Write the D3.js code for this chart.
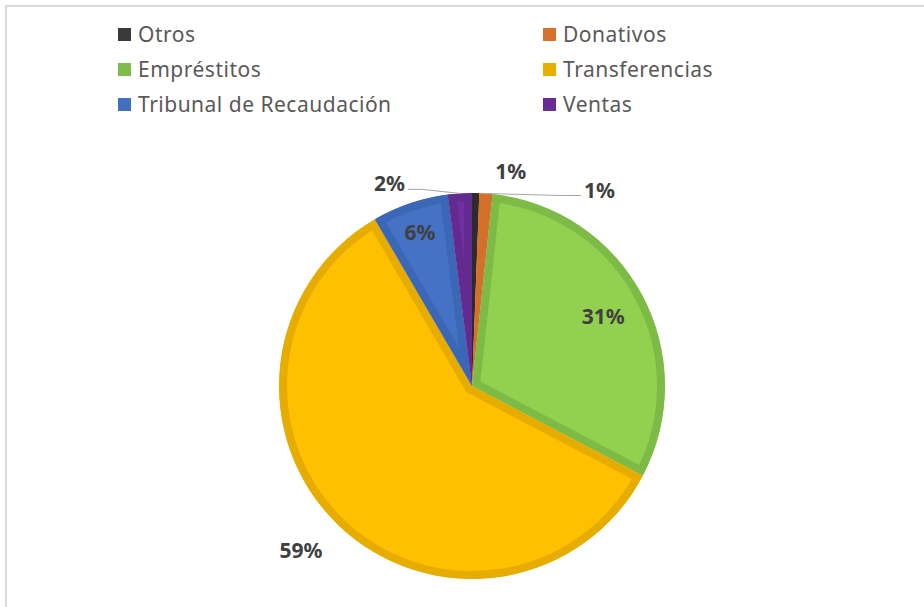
<!DOCTYPE html>
<html>
<head>
<meta charset="utf-8">
<script src="https://cdn.jsdelivr.net/npm/d3@7"></script>
<style>
  body { margin: 0; background: #fff; }
  svg { display: block; }
</style>
</head>
<body>
<svg id="chart" width="924" height="607"></svg>
<script>
// data (percent of total)
const categories = ["Otros", "Donativos", "Empréstitos", "Transferencias", "Tribunal de Recaudación", "Ventas"]
const values = [0.6, 1.1, 31.0, 58.9, 6.4, 2.0]

// styles
const fillColors = ["#333333", "#ed7d31", "#92d050", "#ffc000", "#4472c4", "#7030a0"]
const edgeColors = ["#2b2b2b", "#d5702c", "#7dbb46", "#e6ad00", "#3c67b6", "#632a8f"]
const legendColors = ["#3a3a3a", "#d9712e", "#80bc48", "#e8ae00", "#4170c0", "#682c95"]

const width = 924, height = 607
const cx = 472, cy = 386, radius = 193
const font = "'Noto Sans', 'Open Sans', sans-serif"

// label placement: inside/outside by radius factor, small slices get an offset + leader
const labelLayout = [
    {mode: "offset", dx: 35, dy: -22, leader: false},
    {mode: "offset", dx: 98, dy: -4, leader: true, anchor: "start"},
    {mode: "radial", k: 0.77},
    {mode: "radial", k: 1.2, dx: -11, dy: -3},
    {mode: "radial", k: 0.84},
    {mode: "offset", dx: -55, dy: -10, leader: true, anchor: "end"}
]

let svg = d3.select("#chart")

// chart frame
svg.append("rect")
    .attr("x", 6).attr("y", 6)
    .attr("width", width).attr("height", height)
    .attr("fill", "none")
    .attr("stroke", "#d9d9d9")
    .attr("stroke-width", 2)

let data = categories.map((c, i) => ({name: c, value: values[i], i: i}))

let pie = d3.pie().sort(null).value(d => d.value)
let arcs = pie(data)
let arc = d3.arc().innerRadius(0).outerRadius(radius)

let g = svg.append("g").attr("transform", `translate(${cx},${cy})`)

let defs = svg.append("defs")
arcs.forEach((d, i) => {
    defs.append("clipPath").attr("id", "clip" + i)
        .append("path").attr("d", arc(d))
})

g.selectAll("path.slice")
    .data(arcs)
    .join("path")
    .attr("class", "slice")
    .attr("d", arc)
    .attr("fill", d => fillColors[d.data.i])
    .attr("stroke", d => edgeColors[d.data.i])
    .attr("stroke-width", 16)
    .attr("stroke-linejoin", "miter")
    .attr("clip-path", d => `url(#clip${d.data.i})`)

// labels
const fmt = d3.format(".0%")
function polar(angle, r) {
    return [Math.sin(angle) * r, -Math.cos(angle) * r]
}

arcs.forEach((d, i) => {
    let mid = (d.startAngle + d.endAngle) / 2
    let lay = labelLayout[i]
    let x, y, anchor = "middle"
    if (lay.mode === "radial") {
        [x, y] = polar(mid, radius * lay.k)
        x += lay.dx || 0
        y += lay.dy || 0
    } else {
        let [ax, ay] = polar(mid, radius)
        x = ax + lay.dx
        y = ay + lay.dy
        if (lay.anchor) anchor = lay.anchor
        if (lay.leader) {
            let bend = lay.anchor === "end" ? x + 3 + 14 : x - 3 - 20
            let ex = lay.anchor === "end" ? x + 3 : x - 3
            g.append("path")
                .attr("d", `M${ax},${ay}L${bend},${y + 6}L${ex},${y + 6}`)
                .attr("fill", "none")
                .attr("stroke", "#a6a6a6")
                .attr("stroke-width", 1)
        }
    }
    g.append("text")
        .attr("x", x).attr("y", y)
        .attr("text-anchor", anchor)
        .attr("dominant-baseline", "central")
        .attr("font-family", font)
        .attr("font-weight", "bold")
        .attr("font-size", 21)
        .attr("fill", "#404040")
        .text(fmt(d.data.value / 100))
})

// legend, two columns
const legendX = [118, 543], legendY0 = 34, legendStep = 35
let legend = svg.append("g")
data.forEach((d, i) => {
    let col = i % 2, row = Math.floor(i / 2)
    let lx = legendX[col], ly = legendY0 + row * legendStep
    legend.append("rect")
        .attr("x", lx).attr("y", ly - 6)
        .attr("width", 13).attr("height", 13)
        .attr("fill", legendColors[i])
    legend.append("text")
        .attr("x", lx + 20).attr("y", ly)
        .attr("dominant-baseline", "central")
        .attr("font-family", font)
        .attr("font-size", 21)
        .attr("letter-spacing", 0.5)
        .attr("fill", "#595959")
        .text(d.name)
})
</script>
</body>
</html>
